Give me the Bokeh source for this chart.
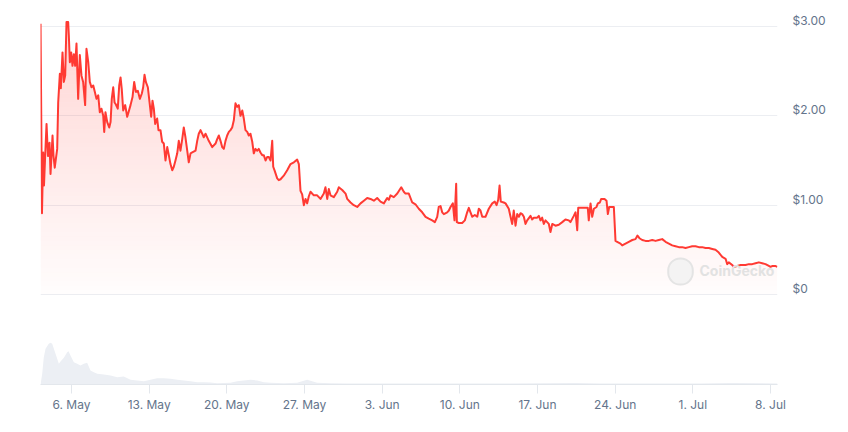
import numpy as np
from datetime import datetime, timedelta
from bokeh.plotting import figure
from bokeh.models import Range1d, LinearAxis, FixedTicker, Label, Grid
from bokeh.embed import file_html
from bokeh.resources import INLINE

ORIGIN = datetime(2024, 5, 6)

# price series: days relative to 6 May 2024, price in USD
price_days = [
    -2.79, -2.66, -2.55, -2.48, -2.39, -2.25, -2.12, -1.98, -1.89, -1.71, -1.62, -1.51, -1.29, -1.20,
    -1.05, -0.96, -0.81, -0.69, -0.57, -0.45, -0.30, -0.24, -0.15, -0.03, 0.09, 0.21, 0.33, 0.45,
    0.60, 0.75, 0.90, 1.05, 1.23, 1.35, 1.51, 1.65, 1.80, 1.96, 2.10, 2.25, 2.41, 2.55, 2.70, 2.86,
    2.95, 3.06, 3.22, 3.40, 3.52, 3.63, 3.76, 3.88, 3.99, 4.17, 4.30, 4.42, 4.53, 4.66, 4.84, 5.02,
    5.14, 5.32, 5.50, 5.65, 5.80, 5.98, 6.16, 6.34, 6.46, 6.58, 6.70, 6.88, 7.00, 7.18, 7.30, 7.42,
    7.54, 7.72, 7.84, 8.02, 8.17, 8.32, 8.47, 8.63, 8.77, 8.92, 9.08, 9.22, 9.37, 9.53, 9.67, 9.82,
    9.98, 10.12, 10.27, 10.43, 10.57, 10.73, 10.88, 11.18, 11.33, 11.47, 11.63, 11.78, 11.92, 12.08,
    12.37, 12.68, 12.98, 13.13, 13.28, 13.43, 13.58, 13.73, 13.88, 14.03, 14.18, 14.33, 14.48, 14.63,
    14.78, 14.93, 15.08, 15.23, 15.39, 15.53, 15.68, 15.84, 15.98, 16.13, 16.29, 16.43, 16.58, 16.74,
    16.88, 17.03, 17.19, 17.33, 17.49, 17.64, 17.78, 17.94, 18.09, 18.18, 18.30, 18.54, 18.68, 18.84,
    19.13, 19.44, 19.74, 20.04, 20.34, 20.49, 20.64, 20.79, 20.94, 21.09, 21.24, 21.39, 21.54, 21.84,
    22.14, 22.44, 22.74, 22.89, 23.05, 23.19, 23.34, 23.64, 23.95, 24.09, 24.40, 24.70, 24.85, 25.15,
    25.44, 25.75, 26.05, 26.35, 26.65, 26.95, 27.25, 27.55, 27.85, 28.15, 28.45, 28.60, 28.75, 29.05,
    29.36, 29.72, 29.95, 30.10, 30.40, 30.71, 31.00, 31.30, 31.61, 31.91, 32.20, 32.51, 32.75, 32.96,
    33.10, 33.26, 33.41, 33.56, 33.86, 34.01, 34.16, 34.37, 34.52, 34.67, 34.73, 34.91, 35.21, 35.45,
    35.66, 35.81, 35.96, 36.12, 36.35, 36.57, 36.71, 36.86, 37.02, 37.31, 37.61, 37.92, 38.15, 38.31,
    38.46, 38.58, 38.69, 38.96, 39.12, 39.41, 39.57, 39.72, 39.86, 40.02, 40.17, 40.32, 40.47, 40.62,
    40.77, 40.92, 41.07, 41.37, 41.52, 41.67, 41.97, 42.12, 42.27, 42.42, 42.57, 42.72, 42.87, 43.02,
    43.17, 43.33, 43.62, 43.92, 44.23, 44.52, 44.82, 44.97, 45.27, 45.43, 45.58, 45.67, 46.03, 46.33,
    46.53, 46.62, 46.78, 46.93, 47.08, 47.32, 47.44, 47.62, 47.74, 48.04, 48.22, 48.34, 48.46, 48.88,
    49.03, 49.18, 49.48, 49.63, 49.93, 50.23, 50.54, 50.83, 51.01, 51.19, 51.44, 51.73, 52.03, 52.34,
    52.64, 52.93, 53.24, 53.54, 53.84, 54.14, 54.44, 54.74, 55.04, 55.34, 55.64, 55.94, 56.24, 56.54,
    56.84, 57.14, 57.44, 57.75, 58.04, 58.34, 58.65, 58.95, 59.10, 59.24, 59.55, 59.69, 60.00, 60.30,
    60.75, 61.05, 61.35, 61.65, 61.95, 62.25, 62.55, 62.85, 63.00, 63.21, 63.42, 63.61,
]
price_usd = [
    3.03, 0.91, 1.59, 1.22, 1.50, 1.91, 1.55, 1.70, 1.35, 1.78, 1.55, 1.42, 1.63, 2.15,
    2.47, 2.31, 2.71, 2.38, 2.45, 3.05, 3.05, 2.90, 2.60, 2.71, 2.56, 2.69, 2.56, 2.81,
    2.19, 2.68, 2.45, 2.38, 2.12, 2.75, 2.60, 2.38, 2.32, 2.34, 2.27, 2.19, 2.23, 2.04, 2.08, 2.00,
    1.82, 2.04, 1.93, 1.87, 1.93, 2.19, 2.32, 2.15, 2.13, 2.08, 2.34, 2.43, 2.30, 2.06, 2.12, 1.99,
    2.04, 2.12, 2.21, 2.38, 2.27, 2.28, 2.19, 2.25, 2.32, 2.46, 2.38, 2.32, 2.19, 1.99, 2.17, 2.08,
    1.91, 1.97, 1.84, 1.84, 1.71, 1.69, 1.50, 1.65, 1.56, 1.46, 1.39, 1.43, 1.50, 1.58, 1.72, 1.61,
    1.74, 1.87, 1.76, 1.61, 1.48, 1.58, 1.59, 1.61, 1.72, 1.80, 1.84, 1.80, 1.76, 1.80,
    1.72, 1.65, 1.69, 1.74, 1.78, 1.72, 1.65, 1.63, 1.72, 1.78, 1.82, 1.84, 1.87, 1.95,
    2.14, 2.10, 2.12, 2.00, 2.06, 1.97, 1.84, 1.82, 1.78, 1.80, 1.71, 1.58, 1.63, 1.61,
    1.63, 1.59, 1.56, 1.56, 1.50, 1.54, 1.54, 1.50, 1.72, 1.43, 1.39, 1.30, 1.28, 1.29,
    1.33, 1.39, 1.46, 1.48, 1.51, 1.46, 1.16, 1.12, 1.00, 1.07, 1.02, 1.10, 1.15, 1.11,
    1.11, 1.07, 1.13, 1.20, 1.07, 1.18, 1.11, 1.09, 1.15, 1.20, 1.17, 1.13, 1.07, 1.03,
    1.00, 0.98, 1.02, 1.05, 1.08, 1.07, 1.05, 1.08, 1.04, 1.02, 1.08, 1.06, 1.11, 1.09,
    1.13, 1.20, 1.15, 1.13, 1.13, 1.03, 1.01, 0.96, 0.92, 0.87, 0.85, 0.83, 0.81, 0.87,
    0.98, 0.99, 0.92, 0.90, 0.92, 0.94, 0.98, 1.02, 0.83, 1.24, 0.81, 0.80, 0.80, 0.83,
    0.92, 0.97, 0.92, 0.87, 0.89, 0.87, 0.96, 0.94, 0.87, 0.87, 0.96, 1.02, 1.04, 1.00,
    1.06, 1.22, 1.04, 1.03, 1.02, 0.96, 0.87, 0.79, 0.94, 0.77, 0.90, 0.87, 0.91, 0.90,
    0.87, 0.79, 0.83, 0.88, 0.84, 0.86, 0.86, 0.88, 0.83, 0.86, 0.79, 0.83, 0.81, 0.79,
    0.70, 0.79, 0.77, 0.78, 0.81, 0.84, 0.83, 0.81, 0.88, 0.92, 0.72, 0.97, 0.97, 0.97,
    0.97, 0.83, 1.02, 0.87, 0.96, 0.98, 1.02, 1.03, 1.07, 1.07, 1.05, 0.90, 0.98, 0.98,
    0.60, 0.59, 0.57, 0.55, 0.57, 0.59, 0.61, 0.62, 0.66, 0.63, 0.61, 0.60, 0.60, 0.61,
    0.60, 0.61, 0.62, 0.59, 0.57, 0.55, 0.54, 0.53, 0.53, 0.52, 0.53, 0.54, 0.54, 0.53,
    0.53, 0.52, 0.52, 0.51, 0.50, 0.47, 0.42, 0.40, 0.34, 0.36, 0.33, 0.31, 0.32, 0.33,
    0.33, 0.34, 0.34, 0.35, 0.36, 0.35, 0.34, 0.32, 0.31, 0.32, 0.32, 0.31,
]

# traded volume (USD millions), days relative to 6 May 2024
volume_days = [
    -2.79, -2.64, -2.50, -2.34, -2.05, -1.89, -1.74, -1.44, -1.14, -0.99, -0.69, -0.39, -0.27, -0.09,
    0.21, 0.51, 0.81, 1.11, 1.41, 1.71, 2.01, 2.32, 2.91, 3.52, 4.12, 4.71, 5.32, 5.92, 6.52, 7.12,
    7.72, 8.32, 8.92, 9.53, 10.12, 10.73, 11.33, 11.92, 12.53, 13.13, 14.33, 14.93, 15.53, 16.13,
    16.74, 17.33, 17.94, 19.13, 20.34, 20.79, 21.24, 21.69, 22.14, 23.34, 24.85, 29.65, 38.67,
    45.43, 47.68, 56.69, 59.40, 63.63,
]
volume_musd = [
    0.0, 10.7, 27.0, 35.7, 40.7, 41.7, 40.7, 30.7, 20.7, 23.0, 26.7, 32.3, 33.3, 29.0,
    22.3, 20.7, 19.0, 20.7, 21.7, 14.0, 12.3, 10.7, 10.0, 9.0, 7.3, 8.0, 4.7, 4.0, 3.3, 4.7,
    6.3, 6.3, 5.7, 4.7, 4.0, 3.3, 2.3, 2.3, 2.0, 1.3, 1.7, 3.3, 4.0, 4.7,
    4.0, 2.3, 1.7, 1.3, 1.7, 3.3, 4.7, 3.3, 1.7, 1.3, 1.0, 1.0, 1.0,
    1.5, 1.0, 1.0, 1.5, 1.0,
]

tick_dates = ["2024-05-06", "2024-05-13", "2024-05-20", "2024-05-27", "2024-06-03",
              "2024-06-10", "2024-06-17", "2024-06-24", "2024-07-01", "2024-07-08"]
tick_labels = ["6. May", "13. May", "20. May", "27. May", "3. Jun",
               "10. Jun", "17. Jun", "24. Jun", "1. Jul", "8. Jul"]
price_ticks = [0, 1, 2, 3]
price_tick_labels = ["$0", "$1.00", "$2.00", "$3.00"]

EPOCH = datetime(1970, 1, 1)


def to_ms(d):
    return (ORIGIN + timedelta(days=d) - EPOCH).total_seconds() * 1000.0


px = np.array([to_ms(d) for d in price_days])
py = np.array(price_usd)
vx = np.array([to_ms(d) for d in volume_days])
vy = np.array(volume_musd)
tick_ms = [(datetime.strptime(s, "%Y-%m-%d") - EPOCH).total_seconds() * 1000.0 for s in tick_dates]

PX_PER_USD = 89.33
y_lo = -90 / PX_PER_USD
y_hi = 284 / PX_PER_USD
shift = 6 / PX_PER_USD

p = figure(width=848, height=432, output_backend="svg", toolbar_location=None,
           x_axis_type="datetime", y_axis_location=None,
           x_range=Range1d(to_ms(-2.794), to_ms(63.63)),
           y_range=Range1d(y_lo, y_hi),
           min_border_left=40, min_border_right=71, min_border_top=10, min_border_bottom=48)
p.outline_line_color = None
p.background_fill_color = "white"
p.border_fill_color = "white"
p.xgrid.visible = False
p.ygrid.visible = False

p.extra_y_ranges = {"vol": Range1d(0, 374), "lab": Range1d(y_lo - shift, y_hi - shift)}

grid = Grid(dimension=1, ticker=FixedTicker(ticks=price_ticks),
            grid_line_color="#eceef2", grid_line_width=1)
p.add_layout(grid)

# volume
p.varea(x=vx, y1=0, y2=vy, y_range_name="vol", fill_color="#eceff4", fill_alpha=1.0)

# gradient fill under price line
levels = np.linspace(0, 3.1, 63)
for a, b in zip(levels[:-1], levels[1:]):
    mid = 0.5 * (a + b)
    p.varea(x=px, y1=np.minimum(py, a), y2=np.minimum(py, b),
            fill_color="#ff3a33", fill_alpha=0.012 + 0.066 * mid)

# watermark
p.add_layout(Label(x=680 - 40, y=384 - 271, x_units="screen", y_units="screen", text=" ",
                   text_font_size="2px", text_align="center", text_baseline="middle",
                   background_fill_color="#f1f1f1", background_fill_alpha=0.8,
                   border_line_color="#e4e4e4", border_line_width=2,
                   padding=12, border_radius=12))
p.add_layout(Label(x=699 - 40, y=384 - 270, x_units="screen", y_units="screen", text="CoinGecko",
                   text_font="Inter", text_font_size="14px", text_font_style="bold",
                   text_color="#e2e2e2", text_baseline="middle", text_align="left"))

p.line(x=px, y=py, line_color="#ff3a33", line_width=2, line_join="round")

# right price axis (labels sit slightly above the gridlines)
ax = LinearAxis(y_range_name="lab", ticker=FixedTicker(ticks=price_ticks),
                major_label_overrides={t: s for t, s in zip(price_ticks, price_tick_labels)})
ax.axis_line_color = None
ax.major_tick_line_color = None
ax.minor_tick_line_color = None
ax.major_tick_out = 0
ax.major_tick_in = 0
ax.major_label_standoff = 15
ax.major_label_text_font = "Inter"
ax.major_label_text_font_size = "12px"
ax.major_label_text_color = "#64748b"
p.add_layout(ax, "right")

xa = p.xaxis[0]
xa.ticker = FixedTicker(ticks=tick_ms)
xa.major_label_overrides = {t: s for t, s in zip(tick_ms, tick_labels)}
xa.axis_line_color = "#e3e7ec"
xa.major_tick_line_color = "#e3e7ec"
xa.minor_tick_line_color = None
xa.major_tick_out = 9
xa.major_tick_in = 0
xa.major_label_standoff = 3
xa.major_label_text_font = "Inter"
xa.major_label_text_font_size = "12px"
xa.major_label_text_color = "#64748b"

open("out.html", "w").write(file_html(p, INLINE))
